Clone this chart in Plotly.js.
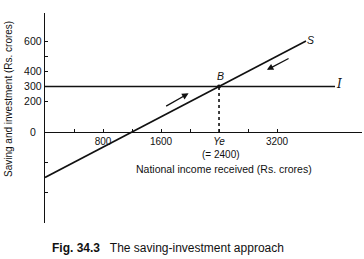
<!DOCTYPE html>
<html>
<head>
<meta charset="utf-8">
<script src="https://cdn.plot.ly/plotly-3.0.1.min.js"></script>
<style>html,body{margin:0;padding:0;background:#fff;}#chart{width:364px;height:259px;}</style>
</head>
<body>
<div id="chart"></div>
<script>
// Data
const incomeS = [0, 3600];
const saving = [-300, 600];
const incomeI = [0, 4000];
const investment = [300, 300];
const equilibriumIncome = 2400;
const equilibriumLevel = 300;
const xTickVals = [400, 800, 1200, 1600, 2000, 2400, 2800, 3200];
const xTickText = ["", "800", "", "1600", "", "<i>Ye</i>", "", "3200"];
const yTickVals = [-400, -200, 0, 200, 300, 400, 500, 600];
const yTickText = ["", "", "0  ", "200", "300", "400", "", "600"];

// layout helpers (pixel -> paper)
const L = 45, T = 13, W = 317, H = 210;
const px = v => (v - L) / W;
const py = v => (T + H - v) / H;

const black = '#111';
const traces = [
  {x: incomeS, y: saving, mode: 'lines', line: {color: black, width: 1.6}, hoverinfo: 'skip'},
  {x: incomeI, y: investment, mode: 'lines', line: {color: black, width: 1.6}, hoverinfo: 'skip'},
  {x: [equilibriumIncome, equilibriumIncome], y: [0, equilibriumLevel], mode: 'lines',
   line: {color: black, width: 1.6, dash: 'dot'}, hoverinfo: 'skip'},
  {x: [equilibriumIncome], y: [equilibriumLevel], mode: 'markers', marker: {color: black, size: 4}, hoverinfo: 'skip'}
];

function lab(x, y, text, font, extra) {
  return Object.assign({x: px(x), y: py(y), xref: 'paper', yref: 'paper', xanchor: 'center', yanchor: 'middle',
    text: text, showarrow: false, font: font}, extra || {});
}

const fnt = {family: 'Liberation Sans, Arial, sans-serif', size: 10, color: black};
const layout = {
  width: 364, height: 259,
  margin: {l: L, r: 364 - L - W, t: T, b: 259 - T - H},
  paper_bgcolor: '#fff', plot_bgcolor: '#fff',
  showlegend: false,
  font: fnt,
  xaxis: {
    range: [0, 4372], showline: true, linecolor: black, linewidth: 1.3,
    anchor: 'free', position: 600 / 1385,
    ticks: 'inside', ticklen: 3, tickcolor: black, tickwidth: 1,
    tickmode: 'array', tickvals: xTickVals, ticktext: xTickText,
    showgrid: false, zeroline: false, tickfont: {size: 10}
  },
  yaxis: {
    range: [-600, 785], showline: true, linecolor: black, linewidth: 1.3,
    ticks: 'inside', ticklen: 3, tickcolor: black, tickwidth: 1,
    tickmode: 'array', tickvals: yTickVals, ticktext: yTickText,
    showgrid: false, zeroline: false, tickfont: {size: 10.5}
  },
  annotations: [
    {x: 1980, y: 255, ax: 1650, ay: 165, xref: 'x', yref: 'y', axref: 'x', ayref: 'y',
     showarrow: true, arrowhead: 2, arrowsize: 1, arrowwidth: 1.3, arrowcolor: black, text: ''},
    {x: 3060, y: 410, ax: 3380, ay: 490, xref: 'x', yref: 'y', axref: 'x', ayref: 'y',
     showarrow: true, arrowhead: 2, arrowsize: 1, arrowwidth: 1.3, arrowcolor: black, text: ''},
    lab(220, 76, '<i>B</i>', {size: 10.5}),
    lab(310, 40, '<i>S</i>', {size: 10.5}),
    lab(339, 84, '<i>I</i>', {size: 12, family: 'DejaVu Serif, serif'}),
    lab(221, 154, '(= 2400)', {size: 10}),
    lab(224, 169, 'National income received (Rs. crores)', {size: 10.5}),
    lab(8, 99, 'Saving and investment (Rs. crores)', {size: 10}, {textangle: -90}),
    lab(50, 248, '<b>Fig. 34.3</b>   The saving-investment approach', {size: 12}, {xanchor: 'left'})
  ]
};
Plotly.newPlot('chart', traces, layout, {staticPlot: true, displayModeBar: false});
</script>
</body>
</html>
